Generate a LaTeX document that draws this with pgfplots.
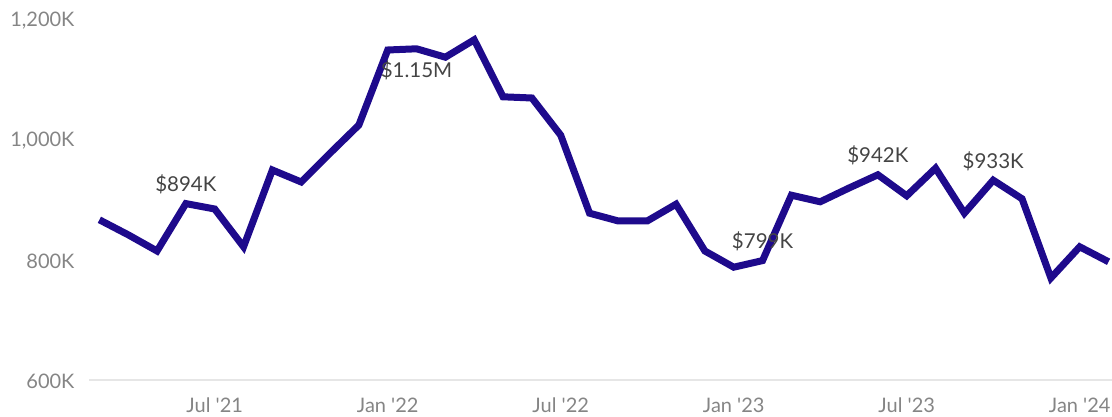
\documentclass[border=0pt]{standalone}
\usepackage{pgfplots}
\pgfplotsset{compat=1.18}
\usepackage{pgfplotstable}
\usepackage{fontspec}
\setmainfont{Lato}
\definecolor{linec}{HTML}{1E0A8C}
\definecolor{tickc}{HTML}{858585}
\definecolor{labc}{HTML}{444444}
\definecolor{gridc}{HTML}{E6E6E6}
\pgfplotstableread{
i v
0 867
1 842
2 815
3 894
4 885
5 822
6 950
7 930
8 978
9 1025
10 1150
11 1152
12 1138
13 1167
14 1072
15 1070
16 1008
17 878
18 865
19 865
20 893
21 815
22 788
23 799
24 908
25 897
26 920
27 942
28 907
29 953
30 878
31 933
32 902
33 770
34 822
35 797
}\data
\pgfplotstableread{
i v label
3 894 {\$894K}
23 799 {\$799K}
27 942 {\$942K}
31 933 {\$933K}
}\labup
\pgfplotstableread{
i v label
11 1152 {\$1.15M}
}\labdown
\begin{document}
\begin{tikzpicture}
\begin{axis}[name=ax,
  scale only axis, width=1023bp, height=360bp,
  xmin=-0.36, xmax=35.12, ymin=600, ymax=1200,
  axis line style={draw=none},
  axis x line*=bottom, axis y line*=left,
  xtick={4,10,16,22,28,34},
  xticklabels={Jul \textquotesingle 21,Jan \textquotesingle 22,Jul \textquotesingle 22,Jan \textquotesingle 23,Jul \textquotesingle 23,Jan \textquotesingle 24},
  ytick={600,800,1000,1200},
  yticklabels={600K,800K,{1,000K},{1,200K}},
  major tick length=0pt,
  tick label style={font=\fontsize{20bp}{22bp}\selectfont, text=tickc},
  yticklabel style={anchor=east, xshift=-11bp, yshift=-1bp},
  xticklabel style={anchor=north, yshift=-14bp},
  clip=false,
  extra y ticks={600}, extra y tick labels={},
  extra y tick style={grid=major, major grid style={draw=gridc, line width=1.5bp}},
]
\addplot[linec, line width=7bp, line join=miter] table[x=i,y=v] {\data};
\addplot[draw=none, mark=none, nodes near coords, point meta=explicit symbolic,
  nodes near coords style={font=\fontsize{20.5bp}{22bp}\selectfont, text=labc, anchor=south, yshift=6bp}]
  table[x=i,y=v,meta=label] {\labup};
\addplot[draw=none, mark=none, nodes near coords, point meta=explicit symbolic,
  nodes near coords style={font=\fontsize{20.5bp}{22bp}\selectfont, text=labc, anchor=north, yshift=-8bp}]
  table[x=i,y=v,meta=label] {\labdown};
\end{axis}
\pgfresetboundingbox
\path ([xshift=-89bp,yshift=-37bp]ax.south west) rectangle ([yshift=20bp]ax.north east);
\end{tikzpicture}
\end{document}
